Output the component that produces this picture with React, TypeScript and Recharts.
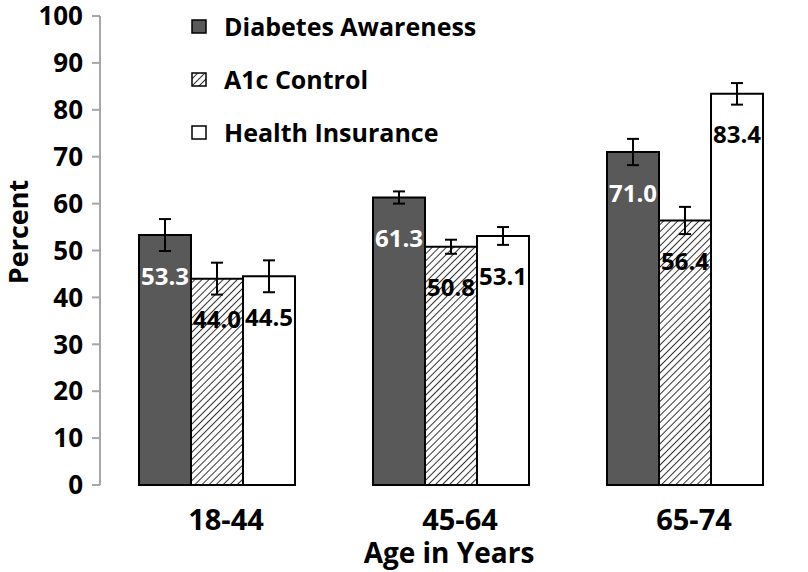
import React from "react";
import { BarChart, Bar, XAxis, YAxis, ErrorBar, LabelList, Legend } from "recharts";

const ageGroups = ["18-44", "45-64", "65-74"];
const awareness = [53.3, 61.3, 71.0];
const a1cControl = [44.0, 50.8, 56.4];
const insurance = [44.5, 53.1, 83.4];
const awarenessErr = [3.4, 1.3, 2.8];
const a1cErr = [3.4, 1.5, 2.9];
const insuranceErr = [3.4, 1.9, 2.3];
const percentTicks = [0, 10, 20, 30, 40, 50, 60, 70, 80, 90, 100];
const groupEdges = [0, 1, 2, 3];
const seriesNames = ["Diabetes Awareness", "A1c Control", "Health Insurance"];

const data = ageGroups.map((age, i) => ({
  age,
  slot: i + 0.5,
  awareness: awareness[i],
  a1c: a1cControl[i],
  insurance: insurance[i],
  awarenessErr: awarenessErr[i],
  a1cErr: a1cErr[i],
  insuranceErr: insuranceErr[i],
}));

const FONT = "'Open Sans', Lato, sans-serif";
const DARK = "#595959";
const AXIS_GRAY = "#a6a6a6";
const seriesFills = [DARK, "url(#legendHatch)", "#fff"];

const HatchDef = ({ id }: { id: string }) => (
  <defs>
    <pattern
      id={id}
      width="5"
      height="5"
      patternUnits="userSpaceOnUse"
      patternTransform="rotate(45)"
    >
      <rect width="5" height="5" fill="#fff" />
      <line x1="0" y1="0" x2="0" y2="5" stroke="#333" strokeWidth="2" />
    </pattern>
  </defs>
);

const valueLabel = (color: string) => (props: any) => {
  const { x, y, width, value } = props;
  return (
    <text
      x={x + width / 2}
      y={y + 40}
      textAnchor="middle"
      dominantBaseline="central"
      fill={color}
      fontSize={24}
      fontWeight={700}
      fontFamily={FONT}
    >
      {Number(value).toFixed(1)}
    </text>
  );
};

const AgeTick = (props: any) => {
  const { x, y, payload } = props;
  return (
    <text
      x={x + 9}
      y={y + 37}
      textAnchor="middle"
      fill="#000"
      fontSize={29}
      fontWeight={700}
      fontFamily={FONT}
    >
      {payload.value}
    </text>
  );
};

const LegendBox = () => (
  <div style={{ fontFamily: FONT }}>
    {seriesNames.map((name, i) => (
      <div key={name} style={{ display: "flex", alignItems: "center", height: 53 }}>
        <svg width={38} height={20}>
          {i === 1 && <HatchDef id="legendHatch" />}
          <rect
            x={6}
            y={3}
            width={14}
            height={13}
            fill={seriesFills[i]}
            stroke="#000"
            strokeWidth={1.5}
          />
        </svg>
        <span style={{ fontSize: 25, fontWeight: 700, color: "#000", lineHeight: 1 }}>
          {name}
        </span>
      </div>
    ))}
  </div>
);

export default function App() {
  return (
    <div style={{ position: "absolute", left: 0, top: 0, background: "#fff" }}>
      <BarChart
        width={808}
        height={572}
        data={data}
        margin={{ top: 16, right: 6, left: 0, bottom: 0 }}
        barCategoryGap="16.67%"
        barGap={0}
      >
        <HatchDef id="barHatch" />
        <XAxis
          xAxisId="edges"
          dataKey="slot"
          type="number"
          domain={[0, 3]}
          ticks={groupEdges}
          height={0}
          tick={() => <g />}
          tickSize={7}
          axisLine={{ stroke: AXIS_GRAY, strokeWidth: 2 }}
          tickLine={{ stroke: AXIS_GRAY, strokeWidth: 2 }}
        />
        <XAxis
          dataKey="age"
          height={87}
          axisLine={false}
          tickLine={false}
          tick={<AgeTick />}
          label={{
            content: () => (
              <text
                x={449}
                y={563}
                textAnchor="middle"
                fill="#000"
                fontSize={28}
                fontWeight={700}
                fontFamily={FONT}
              >
                Age in Years
              </text>
            ),
          }}
        />
        <YAxis
          domain={[0, 100]}
          ticks={percentTicks}
          width={100}
          tickSize={8}
          tickMargin={9}
          axisLine={{ stroke: AXIS_GRAY, strokeWidth: 2 }}
          tickLine={{ stroke: AXIS_GRAY, strokeWidth: 2 }}
          tick={{ fill: "#000", fontSize: 26, fontWeight: 700, fontFamily: FONT }}
          label={{
            content: () => (
              <text
                x={17}
                y={232}
                transform="rotate(-90 17 232)"
                textAnchor="middle"
                dominantBaseline="central"
                fill="#000"
                fontSize={27}
                fontWeight={700}
                fontFamily={FONT}
              >
                Percent
              </text>
            ),
          }}
        />
        <Legend
          layout="vertical"
          align="center"
          verticalAlign="middle"
          content={<LegendBox />}
          wrapperStyle={{ top: 0, left: 186, width: 330 }}
        />
        <Bar
          dataKey="awareness"
          name={seriesNames[0]}
          fill={DARK}
          stroke="#000"
          strokeWidth={2}
          isAnimationActive={false}
        >
          <ErrorBar dataKey="awarenessErr" width={6} stroke="#000" strokeWidth={2} />
          <LabelList dataKey="awareness" content={valueLabel("#fff")} />
        </Bar>
        <Bar
          dataKey="a1c"
          name={seriesNames[1]}
          fill="url(#barHatch)"
          stroke="#000"
          strokeWidth={2}
          isAnimationActive={false}
        >
          <ErrorBar dataKey="a1cErr" width={6} stroke="#000" strokeWidth={2} />
          <LabelList dataKey="a1c" content={valueLabel("#000")} />
        </Bar>
        <Bar
          dataKey="insurance"
          name={seriesNames[2]}
          fill="#fff"
          stroke="#000"
          strokeWidth={2}
          isAnimationActive={false}
        >
          <ErrorBar dataKey="insuranceErr" width={6} stroke="#000" strokeWidth={2} />
          <LabelList dataKey="insurance" content={valueLabel("#000")} />
        </Bar>
      </BarChart>
    </div>
  );
}
